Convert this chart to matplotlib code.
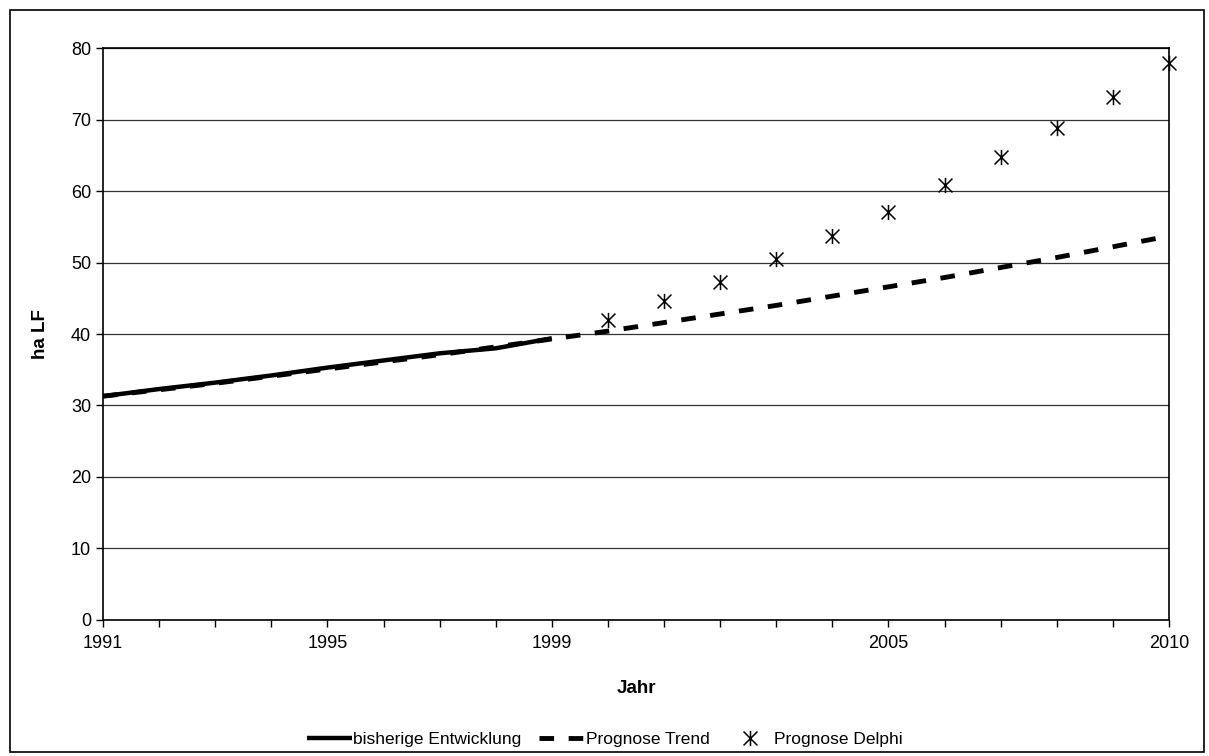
import numpy as np
import matplotlib
matplotlib.use("Agg")
import matplotlib.pyplot as plt
from matplotlib.patches import Rectangle
from matplotlib.path import Path

plt.rcParams['font.family'] = ['Liberation Sans', 'DejaVu Sans']

years = list(range(1991, 2011))
hist_years = list(range(1991, 2000))
hist_vals = [31.3, 32.3, 33.2, 34.2, 35.3, 36.3, 37.3, 38.0, 39.4]
trend_vals = [31.3, 32.2, 33.1, 34.1, 35.1, 36.1, 37.1, 38.2, 39.3, 40.4,
              41.6, 42.8, 44.0, 45.3, 46.6, 47.9, 49.3, 50.7, 52.2, 53.7]
delphi_years = list(range(2000, 2011))
delphi_vals = [42.0, 44.6, 47.3, 50.5, 53.7, 57.1, 60.8, 64.7, 68.8, 73.2, 77.9]
xtick_labels = {1991: "1991", 1995: "1995", 1999: "1999", 2005: "2005", 2010: "2010"}

# Excel-style star marker: an X with a vertical bar through it
star = Path([(-1, -1), (1, 1), (-1, 1), (1, -1), (0, -1.1), (0, 1.1)],
            [Path.MOVETO, Path.LINETO, Path.MOVETO, Path.LINETO, Path.MOVETO, Path.LINETO])

fig = plt.figure(figsize=(12.09, 7.56), dpi=100)
ax = fig.add_axes([0.0852, 0.1799, 0.8817, 0.7566])

# outer frame of the chart
fig.patches.append(Rectangle((0.008, 0.005), 0.988, 0.982, transform=fig.transFigure,
                             fill=False, edgecolor='black', linewidth=1.2))

ax.plot(years, trend_vals, color='black', linewidth=3.5, linestyle=(0, (3, 3)),
        label='Prognose Trend', zorder=3)
ax.plot(hist_years, hist_vals, color='black', linewidth=3.2, solid_capstyle='butt',
        label='bisherige Entwicklung', zorder=4)
ax.plot(delphi_years, delphi_vals, linestyle='none', marker=star, markersize=11,
        markeredgewidth=1.1, color='black', label='Prognose Delphi', zorder=5,
        clip_on=False)

ax.set_xlim(1991, 2010)
ax.set_ylim(0, 80)
ax.set_yticks(np.arange(0, 81, 10))
ax.set_xticks(years)
ax.set_xticklabels([xtick_labels.get(y, "") for y in years])
ax.grid(axis='y', color='#333333', linewidth=0.9)
ax.set_axisbelow(True)
for s in ax.spines.values():
    s.set_color('black')
    s.set_linewidth(1.2)
ax.tick_params(axis='both', direction='out', length=5, width=1, labelsize=13, colors='black')
ax.tick_params(axis='x', pad=6)

ax.set_xlabel('Jahr', fontsize=13.5, fontweight='bold', labelpad=20)
ax.set_ylabel('ha LF', fontsize=13.5, fontweight='bold', labelpad=16)

h, l = ax.get_legend_handles_labels()
order = [1, 0, 2]
fig.legend([h[i] for i in order], [l[i] for i in order], loc='center',
           bbox_to_anchor=(0.5, 0.022), ncol=3, frameon=False, fontsize=12.5,
           handlelength=2.6, handletextpad=0.1, columnspacing=1.0)

fig.savefig('out.png', dpi=100)
